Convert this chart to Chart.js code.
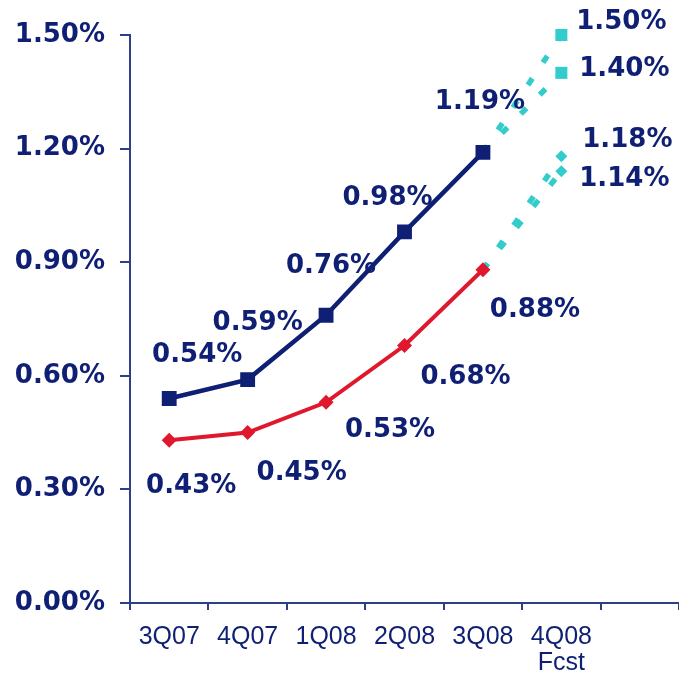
<!DOCTYPE html>
<html>
<head>
<meta charset="utf-8">
<script src="https://cdn.jsdelivr.net/npm/chart.js@4/dist/chart.umd.min.js"></script>
<style>
  html, body { margin: 0; padding: 0; background: #ffffff; }
  #wrap { width: 679px; height: 674px; }
</style>
</head>
<body>
<div id="wrap"><canvas id="c" width="679" height="674"></canvas></div>
<script>
// Quarters on the x axis (the trailing blank slot leaves room for the forecast labels)
const quarters = ['3Q07', '4Q07', '1Q08', '2Q08', '3Q08', ['4Q08', 'Fcst'], ''];

// Actual rates, %
const seriesTop    = [0.54, 0.59, 0.76, 0.98, 1.19, null, null];
const seriesBottom = [0.43, 0.45, 0.53, 0.68, 0.88, null, null];

// Forecast legs from the last actual quarter, %
const fcstTopHigh    = [null, null, null, null, 1.19, 1.50, null];
const fcstTopLow     = [null, null, null, null, 1.19, 1.40, null];
const fcstBottomHigh = [null, null, null, null, 0.88, 1.18, null];
const fcstBottomLow  = [null, null, null, null, 0.88, 1.14, null];

// Y axis ticks, %
const yTicks = [0, 0.3, 0.6, 0.9, 1.2, 1.5];

const NAVY = '#0e1f74';
const AXIS = '#2e3f8a';
const RED = '#e0182e';
const CYAN = '#33cccc';
const BOLD_FONT = 'bold 26px "DejaVu Sans"';

// Where each value label sits relative to its point (px)
const labelOffsets = [
  [[28, -43], [10, -56], [5, -49], [-17, -34], [-3, -50]],
  [[22, 46], [54, 41], [64, 28], [61, 32], [52, 40]],
  [null, null, null, null, null, [60, -13]],
  [null, null, null, null, null, [63, -4]],
  [null, null, null, null, null, [66, -16]],
  [null, null, null, null, null, [63, 8]]
];

const valueLabels = {
  id: 'valueLabels',
  afterDatasetsDraw(chart) {
    const ctx = chart.ctx;
    ctx.save();
    ctx.font = BOLD_FONT;
    ctx.fillStyle = NAVY;
    ctx.textAlign = 'center';
    ctx.textBaseline = 'middle';
    chart.data.datasets.forEach((ds, i) => {
      const offs = labelOffsets[i];
      const meta = chart.getDatasetMeta(i);
      ds.data.forEach((v, j) => {
        if (v == null || !offs || !offs[j]) return;
        const p = meta.data[j];
        ctx.fillText(v.toFixed(2) + '%', p.x + offs[j][0], p.y + offs[j][1]);
      });
    });
    ctx.restore();
  }
};

function fcstRadius(r) { return [0, 0, 0, 0, 0, r, 0]; }

const fcstStyle = {
  borderColor: CYAN,
  backgroundColor: CYAN,
  borderWidth: 5.5,
  borderDash: [8, 19],
  pointBorderWidth: 0,
  pointHoverRadius: 0,
  spanGaps: false,
  tension: 0,
  clip: false
};

new Chart(document.getElementById('c'), {
  type: 'line',
  data: {
    labels: quarters,
    datasets: [
      {
        data: seriesTop,
        borderColor: NAVY, backgroundColor: NAVY, borderWidth: 4.5,
        pointStyle: 'rect', pointRadius: 10.5, pointBorderWidth: 0, tension: 0
      },
      {
        data: seriesBottom,
        borderColor: RED, backgroundColor: RED, borderWidth: 4,
        pointStyle: 'rectRot', pointRadius: 7.5, pointBorderWidth: 0, tension: 0
      },
      Object.assign({ data: fcstTopHigh, pointStyle: 'rect', pointRadius: fcstRadius(8.5) }, fcstStyle),
      Object.assign({ data: fcstTopLow, pointStyle: 'rect', pointRadius: fcstRadius(8.5) }, fcstStyle),
      Object.assign({ data: fcstBottomHigh, pointStyle: 'rectRot', pointRadius: fcstRadius(6) }, fcstStyle),
      Object.assign({ data: fcstBottomLow, pointStyle: 'rectRot', pointRadius: fcstRadius(6) }, fcstStyle)
    ]
  },
  options: {
    responsive: false,
    animation: false,
    events: [],
    layout: { autoPadding: false, padding: { top: 35, right: 0, bottom: 0, left: 0 } },
    plugins: { legend: { display: false }, tooltip: { enabled: false } },
    scales: {
      x: {
        offset: true,
        grid: { offset: true, drawOnChartArea: false, tickLength: 7, color: AXIS, lineWidth: 2 },
        border: { color: AXIS, width: 2 },
        ticks: {
          color: NAVY, padding: 14, maxRotation: 0, autoSkip: false,
          font: { family: '"Liberation Sans"', size: 25, lineHeight: 1.05 }
        },
        afterFit(s) { s.height = 71; s.paddingRight = 0; s.paddingLeft = 0; }
      },
      y: {
        min: 0, max: 1.5,
        afterBuildTicks(s) { s.ticks = yTicks.map(v => ({ value: v })); },
        grid: { drawOnChartArea: false, tickLength: 10, color: AXIS, lineWidth: 2 },
        border: { color: AXIS, width: 2 },
        ticks: {
          color: NAVY, padding: 15,
          font: { family: '"DejaVu Sans"', size: 26, weight: 'bold' },
          callback: v => v.toFixed(2) + '%'
        },
        afterFit(s) { s.width = 130; s.paddingTop = 0; s.paddingBottom = 0; }
      }
    }
  },
  plugins: [valueLabels]
});
</script>
</body>
</html>
